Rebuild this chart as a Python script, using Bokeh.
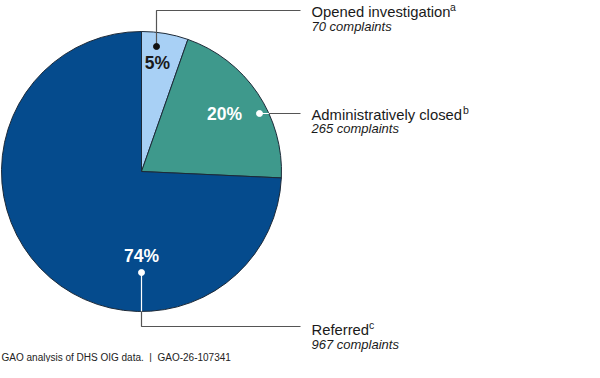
import numpy as np
from bokeh.plotting import figure
from bokeh.models import Range1d, ColumnDataSource
from bokeh.embed import file_html
from bokeh.resources import INLINE
from bokeh.core.properties import value

# ---- data ----
categories = ["Opened investigation", "Administratively closed", "Referred"]
counts = [70, 265, 967]
pct_labels = ["5%", "20%", "74%"]
footnote_marks = ["a", "b", "c"]
count_labels = [f"{c} complaints" for c in counts]
colors = ["#a8d0f5", "#3e998c", "#054b8d"]
pct_colors = ["#1a1a1a", "#ffffff", "#ffffff"]
dot_colors = ["#111111", "#ffffff", "#ffffff"]
source_note = "GAO analysis of DHS OIG data.\u00a0 |\u00a0 GAO-26-107341"

# ---- layout (reference pixel space, y downward) ----
W, H = 584, 362
Y0 = 4
cx, cy, R = 141, 175, 140
pct_pos = [(157, 66), (224, 117), (141, 259)]
dot_pos = [(156, 50), (259, 117), (141, 276)]
text_x = 311
label_y = [15, 118, 333]
count_y = [30, 132, 348]
line_y = [14, 117, 330]
sup_x = [449.5, 462.5, 368.5]
line_end_x = 300
note_y = 361

FONT = value("Liberation Sans")

p = figure(width=W, height=H, output_backend="svg", toolbar_location=None,
           x_range=Range1d(0, W), y_range=Range1d(-(Y0 + H), -Y0),
           min_border=0, x_axis_location=None, y_axis_location=None)
p.grid.visible = False
p.outline_line_color = None
p.background_fill_color = "white"
p.border_fill_color = "white"

# ---- pie ----
vals = np.array(counts, dtype=float)
frac = vals / vals.sum()
cum = np.concatenate([[0], np.cumsum(frac)[:-1]])
start = np.pi / 2 - 2 * np.pi * cum
end = start - 2 * np.pi * frac
src = ColumnDataSource(dict(start=start, end=end, color=colors, cat=categories))
p.wedge(x=cx, y=-cy, radius=R, start_angle="start", end_angle="end",
        direction="clock", fill_color="color", line_color="#1d2a38",
        line_width=1, source=src)

# ---- leader lines ----
line_col = "#555555"
# opened investigation
p.line([dot_pos[0][0], dot_pos[0][0], line_end_x],
       [-dot_pos[0][1], -line_y[0], -line_y[0]],
       line_color=line_col, line_width=1.2)
# administratively closed
edge_x = cx + np.sqrt(R**2 - (cy - dot_pos[1][1])**2)
p.line([dot_pos[1][0], edge_x], [-line_y[1], -line_y[1]],
       line_color="white", line_width=1.2)
p.line([edge_x, line_end_x], [-line_y[1], -line_y[1]],
       line_color=line_col, line_width=1.2)
# referred
p.line([dot_pos[2][0], dot_pos[2][0]], [-dot_pos[2][1], -(cy + R)],
       line_color="white", line_width=1.2)
p.line([dot_pos[2][0], dot_pos[2][0], line_end_x],
       [-(cy + R), -line_y[2], -line_y[2]],
       line_color=line_col, line_width=1.2)

# dots
p.scatter(x=[d[0] for d in dot_pos], y=[-d[1] for d in dot_pos], size=6,
          fill_color=dot_colors, line_color=dot_colors)

# percent labels
p.text(x=[q[0] for q in pct_pos], y=[-q[1] for q in pct_pos], text=pct_labels,
       text_font=FONT, text_font_size=value("17.5px"), text_font_style="bold",
       text_align="center", text_baseline="middle", text_color=pct_colors)

# category labels
p.text(x=[text_x] * 3, y=[-v for v in label_y], text=categories,
       text_font=FONT, text_font_size=value("14.8px"),
       text_align="left", text_baseline="middle", text_color="#1a1a1a")
p.text(x=sup_x, y=[-(v - 5) for v in label_y], text=footnote_marks,
       text_font=FONT, text_font_size=value("10.5px"),
       text_align="left", text_baseline="middle", text_color="#1a1a1a")
p.text(x=[text_x] * 3, y=[-v for v in count_y], text=count_labels,
       text_font=FONT, text_font_size=value("13px"), text_font_style="italic",
       text_align="left", text_baseline="middle", text_color="#1a1a1a")

# source note
p.text(x=[1], y=[-note_y], text=[source_note], text_font=FONT,
       text_font_size=value("10px"), text_align="left",
       text_baseline="middle", text_color="#222222")

open("out.html", "w").write(file_html(p, INLINE))
